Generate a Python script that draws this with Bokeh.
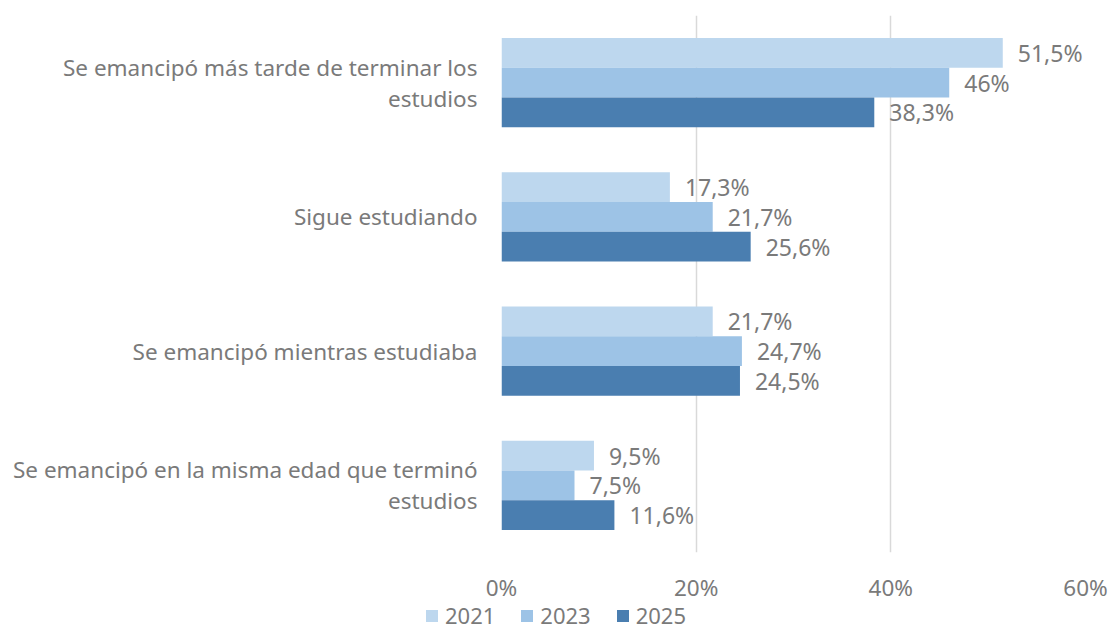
from bokeh.plotting import figure
from bokeh.layouts import column
from bokeh.models import ColumnDataSource, FactorRange, Range1d, Legend, LegendItem, NumeralTickFormatter, FixedTicker, Plot
from bokeh.transform import dodge
from bokeh.core.properties import value
from bokeh.embed import file_html
from bokeh.resources import INLINE

categories = [
    "Se emancipó más tarde de terminar los\nestudios",
    "Sigue estudiando",
    "Se emancipó mientras estudiaba",
    "Se emancipó en la misma edad que terminó\nestudios",
]
years = ["2021", "2023", "2025"]
v2021 = [51.5, 17.3, 21.7, 9.5]
v2023 = [46.0, 21.7, 24.7, 7.5]
v2025 = [38.3, 25.6, 24.5, 11.6]
colors = ["#BDD7EE", "#9DC3E6", "#4A7EB0"]

FONT = "Noto Sans"
GREY = "#7A7A7A"

def fmt(v):
    s = ("%.1f" % v).rstrip("0").rstrip(".")
    return s.replace(".", ",") + "%"

data = dict(cat=categories)
for y, vals in zip(years, [v2021, v2023, v2025]):
    data["v" + y] = [v / 100 for v in vals]
    data["l" + y] = [fmt(v) for v in vals]
src = ColumnDataSource(data)

p = figure(
    width=1108, height=605,
    y_range=FactorRange(*reversed(categories)),
    x_range=Range1d(0, 0.6),
    output_backend="svg", toolbar_location=None,
    min_border_left=501, min_border_right=23, min_border_top=15, min_border_bottom=50,
)
p.outline_line_color = None

offsets = [0.222, 0.0, -0.222]
for y, off, c in zip(years, offsets, colors):
    p.hbar(y=dodge("cat", off, range=p.y_range), right="v" + y, left=0, height=0.222,
           source=src, fill_color=c, line_color=None)
    p.text(x="v" + y, y=dodge("cat", off, range=p.y_range), text="l" + y, source=src,
           x_offset=15, text_baseline="middle", text_align="left",
           text_font=value(FONT), text_font_size="23px", text_color=GREY)

p.xaxis.ticker = FixedTicker(ticks=[0, 0.2, 0.4, 0.6])
p.xaxis.formatter = NumeralTickFormatter(format="0%")
p.xaxis.axis_line_color = None
p.xaxis.major_tick_line_color = None
p.xaxis.minor_tick_line_color = None
p.xaxis.major_tick_out = 0
p.xaxis.major_label_standoff = 19
p.xaxis.major_label_text_font = FONT
p.xaxis.major_label_text_font_size = "22.5px"
p.xaxis.major_label_text_color = GREY

p.yaxis.axis_line_color = None
p.yaxis.major_tick_line_color = None
p.yaxis.major_tick_out = 0
p.yaxis.major_label_standoff = 24
p.yaxis.major_label_text_font = FONT
p.yaxis.major_label_text_font_size = "22.5px"
p.yaxis.major_label_text_color = GREY
p.yaxis.major_label_text_line_height = 1.0

p.ygrid.grid_line_color = None
p.xgrid.grid_line_color = "#D9D9D9"
p.xgrid.grid_line_width = 1.5
p.xgrid.ticker = FixedTicker(ticks=[0, 0.2, 0.4, 0.6])

# legend strip below the chart (its own full-width frame)
lf = figure(width=1108, height=21, x_range=Range1d(0, 1), y_range=Range1d(0, 1),
            x_axis_type=None, y_axis_type=None, output_backend="svg", toolbar_location=None,
            min_border_left=0, min_border_right=0, min_border_top=0, min_border_bottom=0)
lf.outline_line_color = None
lf.grid.grid_line_color = None
if "frame_align" in Plot.properties():
    lf.frame_align = False
    p.frame_align = False
# zero-size proxies, only used to give the legend its swatches
proxies = [lf.hbar(y=[0], right=[0], left=[0], height=0, fill_color=c, line_color=None) for c in colors]
legend = Legend(items=[LegendItem(label=y, renderers=[r]) for y, r in zip(years, proxies)],
                orientation="horizontal", location=(424, -4),
                label_text_font=FONT, label_text_font_size="22px", label_text_color=GREY,
                glyph_width=15, glyph_height=15, spacing=24, label_standoff=6,
                padding=0, margin=0, border_line_color=None, background_fill_alpha=0)
lf.add_layout(legend, "center")

layout = column(p, lf, spacing=0)
open("out.html", "w").write(file_html(layout, INLINE))
